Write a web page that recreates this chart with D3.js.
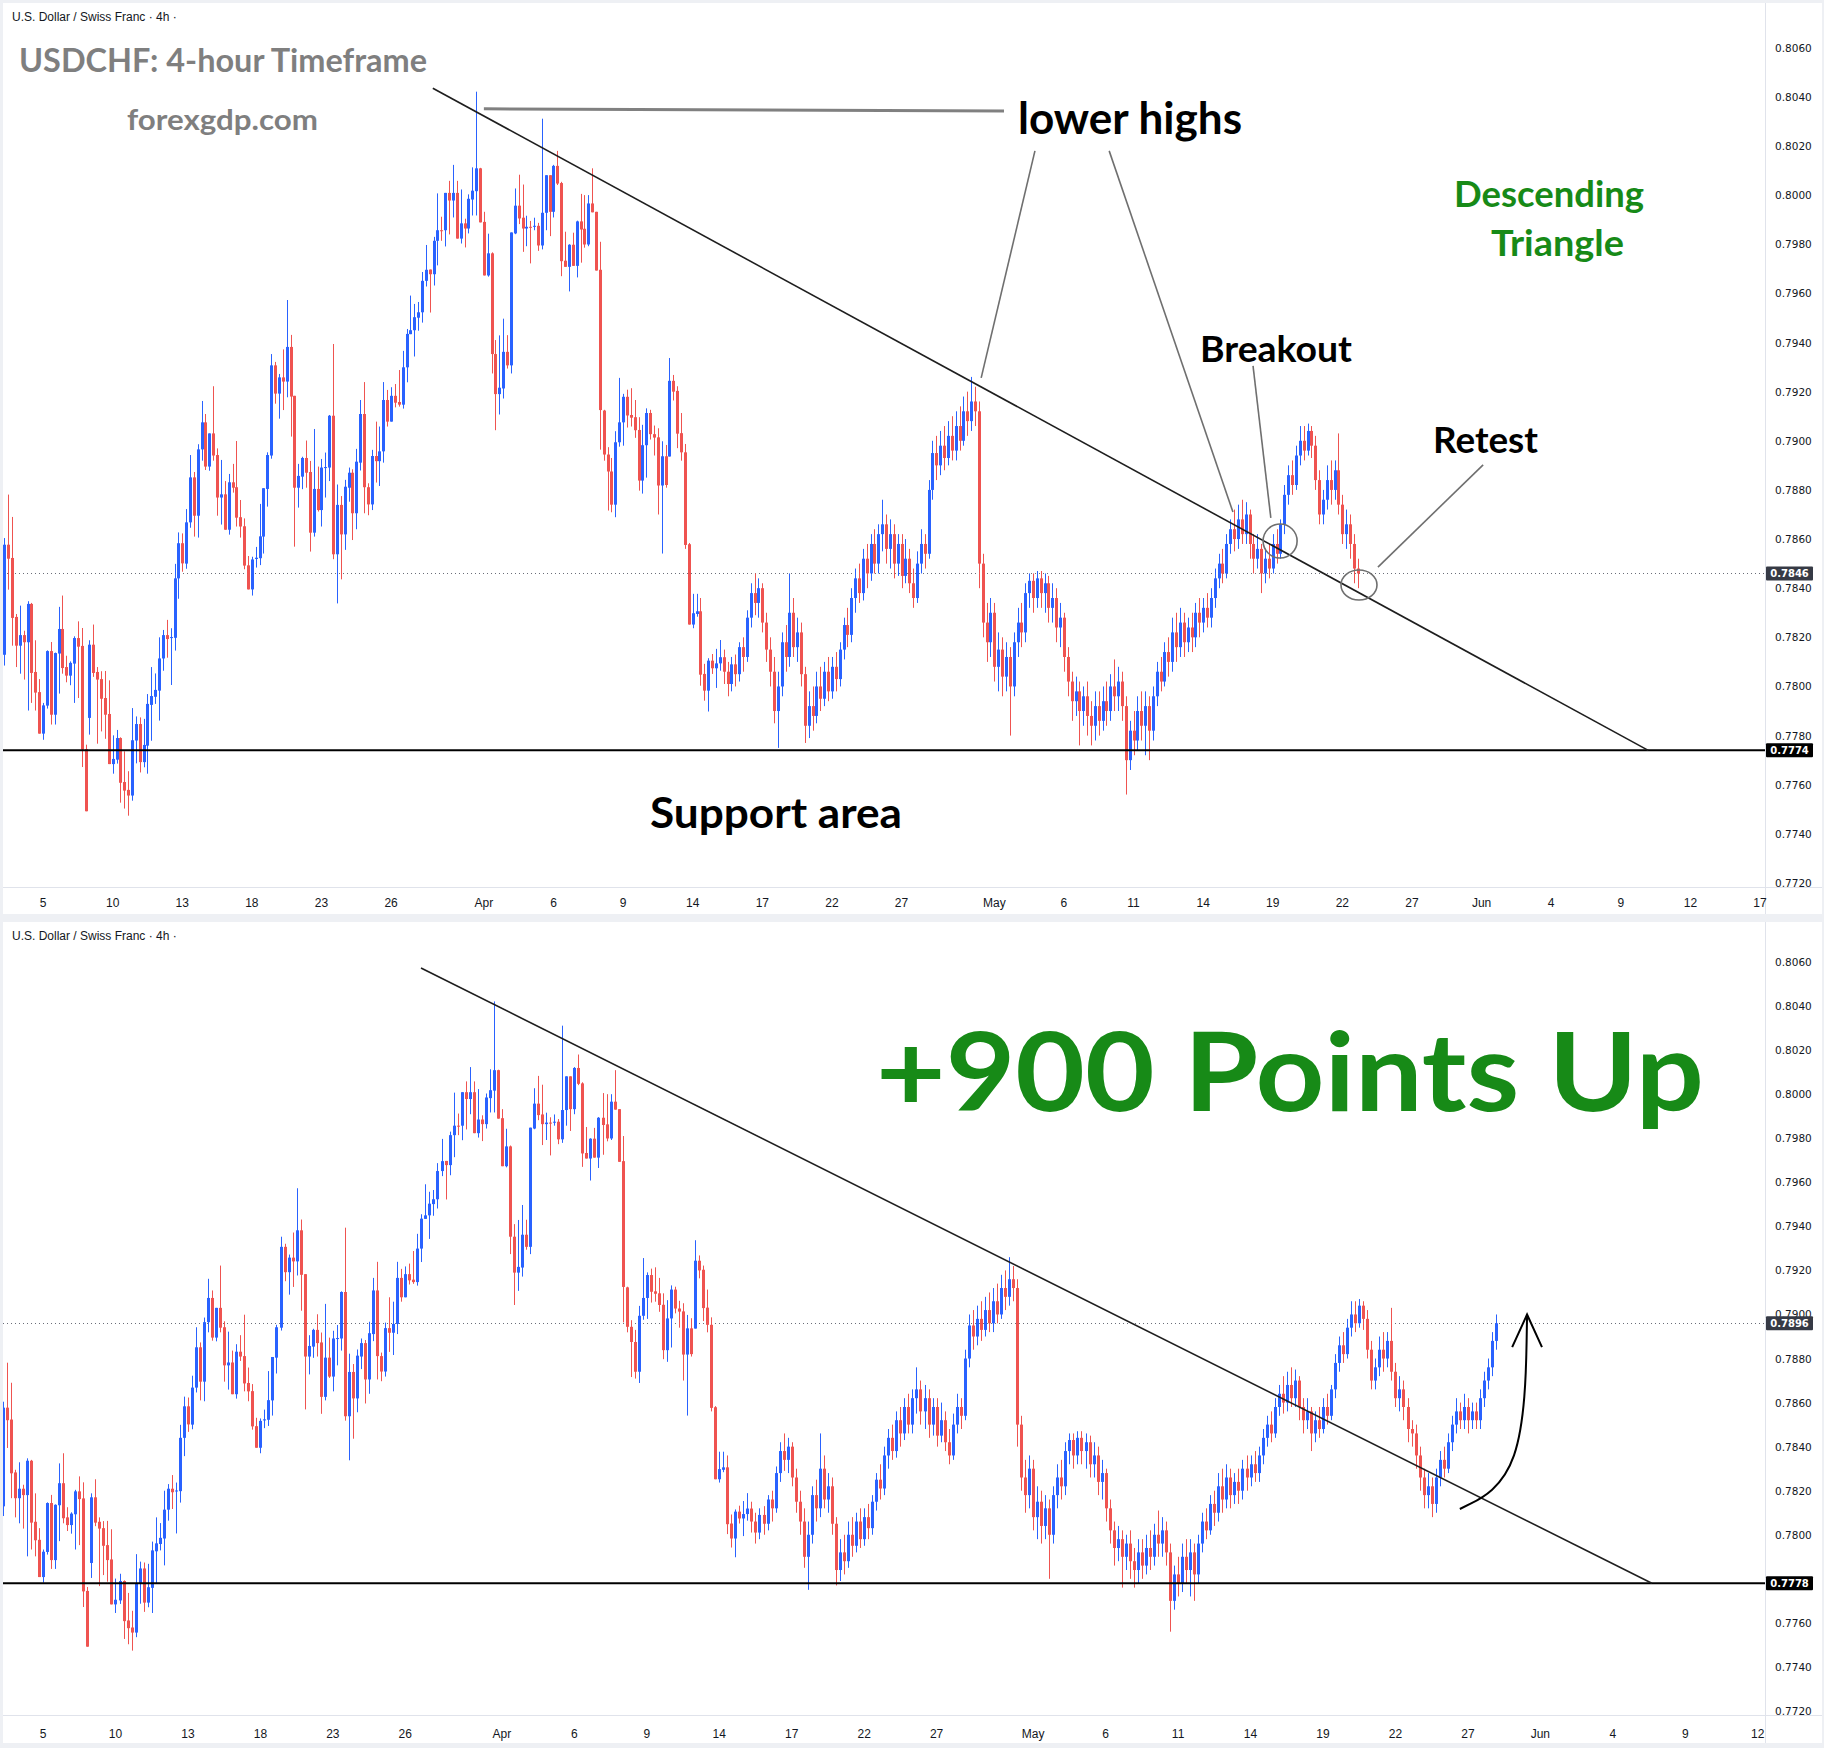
<!DOCTYPE html>
<html>
<head>
<meta charset="utf-8">
<script src="https://cdn.jsdelivr.net/npm/d3@7"></script>
<style>
  body { margin: 0; background: #eef0f4; }
  svg { display: block; }
  .price-label { font-family: 'DejaVu Sans', sans-serif; font-size: 10.5px; fill: #131722; }
  .time-label { font-family: 'Liberation Sans Narrow', 'Liberation Sans', sans-serif; font-size: 12px; fill: #131722; }
  .header { font-family: 'Liberation Sans', sans-serif; font-size: 12px; fill: #131722; }
  .note { font-family: Lato, 'Open Sans', sans-serif; font-weight: 700; }
</style>
</head>
<body>
<svg width="1824" height="1748"></svg>
<script>
(function (d3) {
  'use strict';

  // candles: [open, high, low, close]
  const marchBars = [
    [0.78129,0.78604,0.78085,0.78577],[0.78577,0.78781,0.78394,0.78520],[0.78523,0.78690,0.78166,0.78279],[0.78283,0.78295,0.78079,0.78166],
    [0.78166,0.78329,0.78052,0.78209],[0.78209,0.78227,0.78028,0.78180],[0.78180,0.78347,0.77902,0.78336],[0.78336,0.78340,0.77933,0.78055],
    [0.78059,0.78188,0.77902,0.77975],[0.77977,0.78030,0.77808,0.77808],[0.77808,0.77933,0.77783,0.77923],[0.77922,0.78147,0.77910,0.78144],
    [0.78144,0.78181,0.77845,0.77885],[0.77885,0.78138,0.77845,0.78136],[0.78134,0.78324,0.77971,0.78234],[0.78234,0.78370,0.78052,0.78075],
    [0.78079,0.78125,0.78017,0.78044],[0.78044,0.78102,0.78005,0.78096],[0.78093,0.78204,0.77933,0.78197],[0.78197,0.78265,0.77953,0.78162],
    [0.78165,0.78238,0.77672,0.77743],[0.77745,0.77763,0.77492,0.77492],[0.77872,0.78188,0.77804,0.78170],[0.78170,0.78252,0.78039,0.78055],
    [0.78059,0.78079,0.77767,0.78028],[0.78030,0.78062,0.77817,0.77950],[0.77953,0.78063,0.77787,0.77885],[0.77888,0.78025,0.77684,0.77684],
    [0.77684,0.77801,0.77645,0.77705],[0.77702,0.77823,0.77686,0.77790],[0.77790,0.77793,0.77527,0.77608],[0.77611,0.77736,0.77503,0.77576],
    [0.77579,0.77655,0.77474,0.77556],[0.77556,0.77912,0.77535,0.77781],[0.77780,0.77878,0.77687,0.77847],[0.77847,0.77874,0.77650,0.77692],
    [0.77692,0.77868,0.77671,0.77762],[0.77759,0.77969,0.77645,0.77929],[0.77925,0.78079,0.77779,0.77961],[0.77958,0.78053,0.77929,0.77986],
    [0.77983,0.78200,0.77861,0.78114],[0.78114,0.78230,0.78064,0.78209],[0.78209,0.78271,0.78117,0.78193],[0.78198,0.78237,0.78006,0.78201],
    [0.78198,0.78499,0.78146,0.78440],[0.78440,0.78627,0.78357,0.78583],[0.78583,0.78623,0.78467,0.78501],[0.78500,0.78722,0.78479,0.78668],
    [0.78668,0.78942,0.78646,0.78851],[0.78851,0.78873,0.78610,0.78695],[0.78695,0.78986,0.78606,0.78965],[0.78965,0.79162,0.78919,0.79075],
    [0.79075,0.79109,0.78881,0.78895],[0.78895,0.79030,0.78878,0.79030],[0.79030,0.79222,0.78919,0.78940],[0.78942,0.78969,0.78695,0.78769],
    [0.78769,0.78922,0.78659,0.78782],[0.78782,0.78836,0.78638,0.78638],[0.78638,0.78865,0.78618,0.78831],[0.78831,0.78906,0.78789,0.78809],
    [0.78811,0.78999,0.78651,0.78687],[0.78689,0.78759,0.78606,0.78651],[0.78652,0.78684,0.78477,0.78492],[0.78493,0.78531,0.78395,0.78395],
    [0.78395,0.78528,0.78370,0.78517],[0.78519,0.78568,0.78484,0.78524],[0.78522,0.78743,0.78494,0.78611],[0.78610,0.78807,0.78541,0.78807],
    [0.78804,0.78953,0.78732,0.78942],[0.78940,0.79353,0.78927,0.79307],[0.79307,0.79321,0.79151,0.79192],[0.79192,0.79272,0.79090,0.79258],
    [0.79258,0.79372,0.79125,0.79241],[0.79241,0.79573,0.79177,0.79382],[0.79382,0.79431,0.79017,0.79180],[0.79183,0.79183,0.78569,0.78809],
    [0.78809,0.78906,0.78728,0.78857],[0.78854,0.78935,0.78803,0.78930],[0.78930,0.79001,0.78809,0.78870],[0.78873,0.78918,0.78549,0.78626],
    [0.78626,0.79048,0.78610,0.78804],[0.78804,0.78895,0.78712,0.78718],[0.78718,0.78926,0.78651,0.78891],[0.78891,0.78952,0.78769,0.78893],
    [0.78891,0.79105,0.78836,0.79102],[0.79102,0.79394,0.78518,0.78538],[0.78538,0.78822,0.78338,0.78739],[0.78739,0.78775,0.78436,0.78619],
    [0.78619,0.78841,0.78556,0.78813],[0.78809,0.78891,0.78752,0.78870],[0.78870,0.78884,0.78596,0.78705],[0.78705,0.78967,0.78640,0.78915],
    [0.78911,0.79166,0.78879,0.79109],[0.79109,0.79239,0.78705,0.78811],[0.78811,0.78827,0.78697,0.78741],[0.78741,0.78963,0.78718,0.78938],
    [0.78938,0.79078,0.78830,0.78917],[0.78917,0.79058,0.78816,0.78957],[0.78957,0.79239,0.78911,0.79166],[0.79166,0.79207,0.79058,0.79078],
    [0.79078,0.79218,0.79078,0.79183],[0.79183,0.79231,0.79136,0.79155],[0.79158,0.79288,0.79139,0.79147],[0.79147,0.79366,0.79131,0.79299],
    [0.79299,0.79455,0.79238,0.79435],[0.79434,0.79591,0.79434,0.79450],[0.79450,0.79557,0.79343,0.79503],[0.79501,0.79565,0.79448,0.79523],
    [0.79523,0.79687,0.79481,0.79651],[0.79651,0.79797,0.79628,0.79696],[0.79697,0.79697,0.79522,0.79678],[0.79678,0.79830,0.79632,0.79814],
    [0.79814,0.80007,0.79714,0.79857],[0.79857,0.79912,0.79814,0.79855],[0.79857,0.80009,0.79791,0.80009],[0.80009,0.80058,0.79840,0.79978],
    [0.79978,0.80123,0.79909,0.80009],[0.80009,0.80058,0.79823,0.79823],[0.79823,0.80023,0.79803,0.79885],[0.79885,0.79904,0.79787,0.79864],
    [0.79864,0.80003,0.79844,0.79985],[0.79982,0.80113,0.79917,0.80018],[0.80016,0.80421,0.79917,0.80109],[0.80109,0.80111,0.79889,0.79889]
  ];
  const aprilBars = [
    [0.79891,0.79932,0.79673,0.79673],[0.79673,0.79843,0.79668,0.79763],[0.79763,0.79767,0.79274,0.79353],[0.79353,0.79410,0.79043,0.79190],
    [0.79190,0.79429,0.79107,0.79216],[0.79213,0.79497,0.79172,0.79362],[0.79362,0.79430,0.79294,0.79307],[0.79307,0.79848,0.79274,0.79848],
    [0.79844,0.80027,0.79841,0.79957],[0.79957,0.80083,0.79882,0.79905],[0.79908,0.80043,0.79769,0.79864],[0.79864,0.79916,0.79792,0.79871],
    [0.79871,0.79895,0.79722,0.79868],[0.79871,0.79908,0.79857,0.79875],[0.79875,0.79887,0.79773,0.79795],[0.79795,0.80311,0.79779,0.79928],
    [0.79928,0.80081,0.79857,0.80081],[0.80081,0.80081,0.79833,0.79932],[0.79932,0.80123,0.79909,0.80119],[0.80119,0.80180,0.80041,0.80047],
    [0.80049,0.80054,0.79670,0.79731],[0.79733,0.79851,0.79708,0.79708],[0.79708,0.79800,0.79608,0.79798],[0.79798,0.79847,0.79712,0.79712],
    [0.79712,0.79896,0.79665,0.79893],[0.79893,0.80005,0.79725,0.79860],[0.79863,0.80000,0.79786,0.79799],[0.79799,0.80000,0.79792,0.79966],
    [0.79966,0.80109,0.79930,0.79930],[0.79932,0.79932,0.79693,0.79693],[0.79696,0.79810,0.78964,0.79125],[0.79123,0.79126,0.78919,0.78944],
    [0.78944,0.78974,0.78716,0.78875],[0.78875,0.78930,0.78709,0.78740],[0.78740,0.79039,0.78689,0.78994],[0.78994,0.79256,0.78976,0.79075],
    [0.79075,0.79191,0.78980,0.79179],[0.79179,0.79208,0.79054,0.79103],[0.79105,0.79214,0.79058,0.79094],[0.79096,0.79166,0.79012,0.79043],
    [0.79044,0.79096,0.78797,0.78838],[0.78838,0.79065,0.78785,0.78982],[0.78982,0.79132,0.78850,0.79113],[0.79113,0.79126,0.79005,0.79027],
    [0.79027,0.79062,0.78940,0.79013],[0.79014,0.79051,0.78700,0.78818],[0.78818,0.78998,0.78541,0.78937],[0.78937,0.78983,0.78809,0.78820],
    [0.78936,0.79337,0.78936,0.79244],[0.79244,0.79268,0.79164,0.79200],[0.79203,0.79222,0.78970,0.79029],[0.79031,0.79113,0.78919,0.78953],
    [0.78953,0.78987,0.78560,0.78576],[0.78579,0.78584,0.78252,0.78252],[0.78252,0.78377,0.78237,0.78298],[0.78295,0.78377,0.78284,0.78306],
    [0.78306,0.78360,0.78003,0.78048],[0.78051,0.78092,0.77942,0.77983],[0.77983,0.78115,0.77898,0.78105],[0.78105,0.78132,0.78051,0.78074],
    [0.78074,0.78153,0.77994,0.78094],[0.78094,0.78189,0.78064,0.78119],[0.78119,0.7815,0.7801,0.7806],[0.7806,0.7810,0.7796,0.7801],
    [0.7801,0.7812,0.7798,0.7809],[0.7809,0.7813,0.7800,0.7805],[0.7805,0.7818,0.7802,0.7816],[0.7816,0.7820,0.7806,0.7812],
    [0.7812,0.7831,0.7810,0.7828],[0.7828,0.7842,0.7824,0.7838],[0.7838,0.7846,0.7829,0.7834],[0.7834,0.7844,0.7828,0.7840],
    [0.7840,0.7842,0.7822,0.7826],[0.7826,0.7830,0.7810,0.7815],[0.7815,0.7820,0.7800,0.7806],[0.7806,0.7812,0.7785,0.7790],
    [0.7790,0.7806,0.7775,0.7800],[0.7800,0.7822,0.7796,0.7818],[0.7818,0.7825,0.7806,0.7812],[0.7812,0.7846,0.7808,0.7830],
    [0.7830,0.7836,0.7812,0.7816],[0.7816,0.7828,0.7810,0.7822],[0.7822,0.7826,0.7800,0.7805],[0.7805,0.7808,0.7777,0.7784],
    [0.7784,0.7798,0.7779,0.7792],[0.7792,0.7800,0.7782,0.7788],[0.7788,0.7806,0.7785,0.7800],[0.7800,0.7808,0.7790,0.7795],
    [0.7795,0.7810,0.7792,0.7806],[0.7806,0.7812,0.7794,0.7798],[0.7798,0.7812,0.7795,0.7808],[0.7808,0.7814,0.7798,0.7803],
    [0.7803,0.7818,0.7800,0.7815],[0.7815,0.7828,0.7811,0.7825],[0.7825,0.7832,0.7816,0.7821],[0.7821,0.7840,0.7818,0.7836],
    [0.7836,0.7848,0.7830,0.7844],[0.7844,0.7850,0.7834,0.7838],[0.7838,0.7856,0.7835,0.7852],[0.7852,0.7858,0.7840,0.7846],
    [0.7846,0.7862,0.7843,0.7858],[0.7858,0.7864,0.7846,0.7850],[0.7850,0.7866,0.7846,0.7862],[0.7862,0.7876,0.7855,0.7866],
    [0.7866,0.7870,0.7850,0.7856],[0.7856,0.7868,0.7848,0.7862],[0.7862,0.7866,0.7844,0.7850],[0.7850,0.7862,0.7845,0.7858],
    [0.7858,0.7862,0.7840,0.7845],[0.7845,0.7860,0.7842,0.7852],[0.7852,0.7856,0.7838,0.7842],[0.7842,0.7848,0.7832,0.7836],
    [0.7836,0.7855,0.7834,0.7850],[0.7850,0.7864,0.7846,0.7858],[0.7858,0.7862,0.7848,0.7854],[0.7854,0.7884,0.7852,0.7880],
    [0.7880,0.7900,0.7876,0.7895],[0.7895,0.7902,0.7884,0.7890],[0.7890,0.7904,0.7886,0.7898],[0.7898,0.7906,0.7888,0.7893],
    [0.7893,0.7908,0.7890,0.7902],[0.7902,0.7910,0.7892,0.7896],[0.7896,0.7912,0.7892,0.7906],[0.7906,0.7914,0.7896,0.7900],
    [0.7900,0.7918,0.7898,0.7912],[0.7912,0.7920,0.7902,0.7908],[0.7908,0.7926,0.7904,0.7916],[0.7916,0.7922,0.7906,0.7912],
    [0.7912,0.7916,0.7840,0.7850],[0.7850,0.7854,0.7820,0.7826],[0.7826,0.7834,0.7810,0.7818],[0.7818,0.7836,0.7812,0.7830]
  ];
  const mayBars = [
    [0.7830,0.7834,0.7802,0.7808],[0.7808,0.7822,0.7798,0.7815],[0.7815,0.7820,0.7796,0.7804],[0.7804,0.7818,0.7798,0.7812],
    [0.7812,0.7816,0.7780,0.7800],[0.7800,0.7822,0.7796,0.7818],[0.7818,0.7832,0.7812,0.7826],[0.7826,0.7834,0.7816,0.7822],
    [0.7822,0.7842,0.7818,0.7838],[0.7838,0.7846,0.7832,0.7843],[0.7843,0.7846,0.7830,0.7836],[0.7836,0.7847,0.7832,0.7844],
    [0.7844,0.7847,0.7832,0.7838],[0.7838,0.7846,0.7830,0.7842],[0.7842,0.7845,0.7826,0.7832],[0.7832,0.7842,0.7826,0.7836],
    [0.7836,0.7840,0.7818,0.7824],[0.7824,0.7834,0.7816,0.7828],[0.7828,0.7830,0.7806,0.7812],[0.7812,0.7816,0.7796,0.7802],
    [0.7802,0.7806,0.7786,0.7794],[0.7794,0.7804,0.7788,0.7798],[0.7798,0.7802,0.7776,0.7790],[0.7790,0.7800,0.7784,0.7796],
    [0.7796,0.7802,0.7780,0.7788],[0.7788,0.7794,0.7776,0.7784],[0.7784,0.7798,0.7778,0.7792],[0.7792,0.7798,0.7780,0.7786],
    [0.7786,0.7800,0.7782,0.7794],[0.7794,0.7802,0.7784,0.7790],[0.7790,0.7805,0.7786,0.7800],[0.7800,0.7811,0.7790,0.7796],
    [0.7796,0.7808,0.7790,0.7802],[0.7802,0.7806,0.7786,0.7792],[0.7792,0.7796,0.7756,0.7770],[0.7770,0.7786,0.7766,0.7782],
    [0.7782,0.7790,0.7772,0.7778],[0.7778,0.7796,0.7774,0.7790],[0.7790,0.7798,0.7778,0.7784],[0.7784,0.7798,0.7772,0.7792],
    [0.7792,0.7796,0.7770,0.7782],[0.7782,0.7800,0.7778,0.7796],[0.7796,0.7810,0.7792,0.7806],[0.7806,0.7812,0.7798,0.7802],
    [0.7802,0.7818,0.7800,0.7814],[0.7814,0.7820,0.7804,0.7810],[0.7810,0.7828,0.7806,0.7822],[0.7822,0.7830,0.7810,0.7816],
    [0.7816,0.7832,0.7812,0.7826],[0.7826,0.7830,0.7812,0.7818],[0.7818,0.7828,0.7814,0.7824],[0.7824,0.7830,0.7814,0.7820],
    [0.7820,0.7834,0.7816,0.7830],[0.7830,0.7836,0.7820,0.7826],[0.7826,0.7836,0.7822,0.7832],[0.7832,0.7838,0.7824,0.7828],
    [0.7828,0.7840,0.7824,0.7836],[0.7836,0.7848,0.7832,0.7844],[0.7844,0.7854,0.7840,0.7850],[0.7850,0.7856,0.7842,0.7846],
    [0.7846,0.7862,0.7844,0.7858],[0.7858,0.7868,0.7854,0.7864],[0.7864,0.7872,0.7855,0.7860],[0.7860,0.7874,0.7856,0.7868],
    [0.7868,0.7876,0.7858,0.7862],[0.7862,0.7875,0.7858,0.7870],[0.7870,0.7872,0.7852,0.7858],[0.7858,0.7862,0.7846,0.7852],
    [0.7852,0.7862,0.7848,0.7856],[0.7856,0.7858,0.7838,0.7846],[0.7846,0.7856,0.7842,0.7852],[0.7852,0.7858,0.7844,0.7848],
    [0.7848,0.7862,0.7846,0.7858],[0.7858,0.7864,0.7850,0.7854],[0.7854,0.7868,0.7852,0.7866],[0.7866,0.7882,0.7862,0.7878],
    [0.7878,0.7890,0.7874,0.7886],[0.7886,0.7892,0.7878,0.7882],[0.7882,0.7898,0.7880,0.7894],[0.7894,0.7906,0.7890,0.7900],
    [0.7900,0.7906,0.7892,0.7896],[0.7896,0.7907,0.7894,0.7904],[0.7904,0.7906,0.7893,0.7898],[0.7898,0.7902,0.7880,0.7884],
    [0.7884,0.7888,0.7866,0.7870],[0.7870,0.7880,0.7866,0.7876],[0.7876,0.7890,0.7872,0.7884],[0.7884,0.7892,0.7874,0.7880],
    [0.7880,0.7892,0.7876,0.7888],[0.7888,0.7903,0.7870,0.7874],[0.7874,0.7878,0.7858,0.7862],[0.7862,0.7872,0.7856,0.7866],
    [0.7866,0.7870,0.7852,0.7858],[0.7858,0.7862,0.7842,0.7848],[0.7848,0.7852,0.7840,0.7846],
    // bars after the first snapshot (only in the lower chart)
    [0.7846,0.7850,0.7830,0.7836],[0.7836,0.7840,0.7820,0.7826],[0.7826,0.7830,0.7812,0.7818],[0.7818,0.7828,0.7812,0.7822],
    [0.7822,0.7826,0.7808,0.7814],[0.7814,0.7830,0.7810,0.7826],[0.7826,0.7838,0.7822,0.7834],[0.7834,0.7840,0.7826,0.7830],
    [0.7830,0.7846,0.7828,0.7842],[0.7842,0.7854,0.7838,0.7850],[0.7850,0.7862,0.7846,0.7856],[0.7856,0.7860,0.7848,0.7852],
    [0.7852,0.7864,0.7848,0.7858],[0.7858,0.7862,0.7846,0.7852],[0.7852,0.7860,0.7848,0.7856],[0.7856,0.7860,0.7848,0.7852],
    [0.7852,0.7866,0.7848,0.7862],[0.7862,0.7874,0.7858,0.7870],[0.7870,0.7880,0.7866,0.7876],[0.7876,0.7892,0.7872,0.7888],
    [0.7888,0.7900,0.7884,0.7896]
  ];
  const candles = marchBars.concat(aprilBars, mayBars);

  // bar index of each date label on the time scale
  const timeTicks = [[10,'5'],[28,'10'],[46,'13'],[64,'18'],[82,'23'],[100,'26'],[124,'Apr'],[142,'6'],[160,'9'],
    [178,'14'],[196,'17'],[214,'22'],[232,'27'],[256,'May'],[274,'6'],[292,'11'],[310,'14'],[328,'19'],[346,'22'],
    [364,'27'],[382,'Jun'],[400,'4'],[418,'9'],[436,'12'],[454,'17']];
  const priceTicks = [0.7720,0.7740,0.7760,0.7780,0.7800,0.7820,0.7840,0.7860,0.7880,0.7900,
    0.7920,0.7940,0.7960,0.7980,0.8000,0.8020,0.8040,0.8060];

  const topBarCount = 351;
  const bottomBarCount = 372;
  const topLast = 0.7846, topSupport = 0.7774;
  const bottomLast = 0.7896, bottomSupport = 0.7778;

  // drawn trend lines, [bar index, price]
  const topTrend = [[110.8, 0.80435], [425.1, 0.7774]];
  const bottomTrend = [[103.9, 0.80573], [409.7, 0.7778]];
  const lowerHighsLine = [[124.0, 0.80351], [258.5, 0.80342]];
  const pointerLines = [
    [[266.5, 0.80180], [252.6, 0.79256]],
    [[285.7, 0.80180], [317.7, 0.78710]],
    [[322.9, 0.79305], [327.5, 0.78686]],
    [[382.4, 0.78902], [355.2, 0.78486]]
  ];
  const circles = [[329.9, 0.78592, 17, 17], [350.3, 0.78413, 18, 15]];
  const upArrow = [[362.0, 0.78117], [378.0, 0.78262], [378.7, 0.78998]];
  const arrowHead = [[375.0, 0.78852], [378.7, 0.79000], [382.4, 0.78852]];

  const green = '#178a17';
  const topNotes = [
    { t: 'USDCHF: 4-hour Timeframe', x: 19, y: 72, size: 33, fill: '#7f7f7f', w: 408 },
    { t: 'forexgdp.com', x: 127, y: 130, size: 29, fill: '#7f7f7f', w: 191 },
    { t: 'lower highs', x: 1018, y: 134, size: 44, fill: '#000', w: 224 },
    { t: 'Descending', x: 1454, y: 207, size: 37, fill: green, w: 190 },
    { t: 'Triangle', x: 1491, y: 256, size: 37, fill: green, w: 133 },
    { t: 'Breakout', x: 1200, y: 362, size: 37, fill: '#000', w: 152 },
    { t: 'Retest', x: 1433, y: 453, size: 37, fill: '#000', w: 105 },
    { t: 'Support area', x: 650, y: 828, size: 42, fill: '#000', w: 252 }
  ];
  const bottomNotes = [
    { t: '+900 Points Up', x: 876, y: 1111, size: 110, fill: green, w: 828 }
  ];

  const svg = d3.select('svg');
  const defs = svg.append('defs');
  const axisX = 1765;

  const drawPanel = p => {
    const g = svg.append('g');
    g.append('rect')
      .attr('x', 3).attr('y', p.top)
      .attr('width', 1819).attr('height', p.bottom - p.top)
      .attr('fill', '#fff');

    const xScale = d3.scaleLinear().domain([10, p.tickEnd]).range([43.04, p.tickEndX]);
    const yScale = d3.scaleLinear().domain([0.7720, 0.8060]).range([p.y0, p.y1]);
    const pt = d => [xScale(d[0]), yScale(d[1])];

    defs.append('clipPath').attr('id', p.id + '-plot')
      .append('rect').attr('x', 3).attr('y', p.top).attr('width', axisX - 3).attr('height', p.axisY - p.top);
    defs.append('clipPath').attr('id', p.id + '-axis')
      .append('rect').attr('x', axisX).attr('y', p.top).attr('width', 60).attr('height', p.axisY - p.top);

    const plot = g.append('g').attr('clip-path', `url(#${p.id}-plot)`);

    // current price dotted line
    plot.append('line')
      .attr('x1', 3).attr('x2', axisX)
      .attr('y1', Math.round(yScale(p.last)) + 0.5).attr('y2', Math.round(yScale(p.last)) + 0.5)
      .attr('stroke', '#6a6d78').attr('stroke-width', 1).attr('stroke-dasharray', '1 3');

    // candles
    const data = candles.slice(0, p.count).map((c, i) => ({ i, o: c[0], h: c[1], l: c[2], c: c[3] }));
    const col = d => d.c >= d.o ? '#2962ff' : '#ef5350';
    plot.append('g').selectAll('line').data(data).join('line')
      .attr('x1', d => Math.round(xScale(d.i)) + 0.5)
      .attr('x2', d => Math.round(xScale(d.i)) + 0.5)
      .attr('y1', d => yScale(d.h))
      .attr('y2', d => yScale(d.l))
      .attr('stroke', col).attr('stroke-width', 1);
    plot.append('g').selectAll('rect').data(data).join('rect')
      .attr('x', d => Math.round(xScale(d.i)) - 1)
      .attr('width', 3)
      .attr('y', d => yScale(Math.max(d.o, d.c)))
      .attr('height', d => Math.max(1, Math.abs(yScale(d.o) - yScale(d.c))))
      .attr('fill', col);

    // support line
    plot.append('line')
      .attr('x1', 3).attr('x2', axisX)
      .attr('y1', yScale(p.support)).attr('y2', yScale(p.support))
      .attr('stroke', '#000').attr('stroke-width', 2);

    // trend line
    plot.append('line')
      .attr('x1', pt(p.trend[0])[0]).attr('y1', pt(p.trend[0])[1])
      .attr('x2', pt(p.trend[1])[0]).attr('y2', pt(p.trend[1])[1])
      .attr('stroke', '#1e1e1e').attr('stroke-width', 1.6);

    if (p.extras) p.extras(plot, pt, xScale, yScale);

    // axes frame
    g.append('line').attr('x1', axisX + 0.5).attr('x2', axisX + 0.5).attr('y1', p.top).attr('y2', p.bottom)
      .attr('stroke', '#e0e3eb');
    g.append('line').attr('x1', 3).attr('x2', 1822).attr('y1', p.axisY + 0.5).attr('y2', p.axisY + 0.5)
      .attr('stroke', '#e0e3eb');

    // price scale; a tick label sitting right under a price box is hidden by it
    const boxes = [[p.last, '#363a45'], [p.support, '#000']];
    const visibleTicks = priceTicks.filter(t => boxes.every(b => Math.abs(yScale(t) - yScale(b[0])) > 6));
    const axisG = g.append('g').attr('clip-path', `url(#${p.id}-axis)`);
    axisG.selectAll('text').data(visibleTicks).join('text')
      .attr('class', 'price-label')
      .attr('x', 1775).attr('y', d => yScale(d) + 4)
      .text(d => d.toFixed(4));
    boxes.forEach(([v, fill]) => {
      axisG.append('rect')
        .attr('x', 1766).attr('y', yScale(v) - 7).attr('width', 47).attr('height', 14)
        .attr('rx', 1).attr('fill', fill);
      axisG.append('text')
        .attr('class', 'price-label')
        .attr('x', 1789.5).attr('y', yScale(v) + 4)
        .attr('text-anchor', 'middle')
        .style('fill', '#fff').style('font-weight', 700).style('font-size', '10px')
        .text(v.toFixed(4));
    });

    // time scale
    g.append('g').selectAll('text').data(timeTicks.filter(d => xScale(d[0]) < axisX)).join('text')
      .attr('class', 'time-label')
      .attr('x', d => xScale(d[0])).attr('y', p.timeY)
      .attr('text-anchor', 'middle')
      .text(d => d[1]);

    g.append('text')
      .attr('class', 'header')
      .attr('x', 12).attr('y', p.top + 18)
      .text('U.S. Dollar / Swiss Franc \u00b7 4h \u00b7');

    g.append('g').selectAll('text').data(p.notes).join('text')
      .attr('class', 'note')
      .attr('x', d => d.x).attr('y', d => d.y)
      .attr('font-size', d => d.size)
      .attr('fill', d => d.fill)
      .attr('textLength', d => d.w)
      .attr('lengthAdjust', 'spacingAndGlyphs')
      .text(d => d.t);
  };

  drawPanel({
    id: 'top', top: 3, bottom: 914, axisY: 887, timeY: 907,
    y0: 883, y1: 47.7, tickEnd: 454, tickEndX: 1760,
    count: topBarCount, last: topLast, support: topSupport, trend: topTrend,
    notes: topNotes,
    extras: (plot, pt) => {
      const line = d3.line().x(d => pt(d)[0]).y(d => pt(d)[1]);
      plot.append('path').attr('d', line(lowerHighsLine))
        .attr('fill', 'none').attr('stroke', '#808080').attr('stroke-width', 3);
      pointerLines.forEach(l => {
        plot.append('path').attr('d', line(l))
          .attr('fill', 'none').attr('stroke', '#6f6f6f').attr('stroke-width', 1.6);
      });
      circles.forEach(c => {
        const [cx, cy] = pt(c);
        plot.append('ellipse').attr('cx', cx).attr('cy', cy).attr('rx', c[2]).attr('ry', c[3])
          .attr('fill', 'none').attr('stroke', '#6f6f6f').attr('stroke-width', 1.6);
      });
    }
  });

  drawPanel({
    id: 'bottom', top: 922, bottom: 1743, axisY: 1715, timeY: 1738,
    y0: 1711, y1: 962, tickEnd: 436, tickEndX: 1757.7,
    count: bottomBarCount, last: bottomLast, support: bottomSupport, trend: bottomTrend,
    notes: bottomNotes,
    extras: (plot, pt) => {
      const curve = d3.line().x(d => pt(d)[0]).y(d => pt(d)[1]).curve(d3.curveBundle.beta(1));
      plot.append('path').attr('d', curve(upArrow))
        .attr('fill', 'none').attr('stroke', '#000').attr('stroke-width', 2);
      plot.append('path').attr('d', d3.line().x(d => pt(d)[0]).y(d => pt(d)[1])(arrowHead))
        .attr('fill', 'none').attr('stroke', '#000').attr('stroke-width', 2);
    }
  });

}(d3));
</script>
</body>
</html>
